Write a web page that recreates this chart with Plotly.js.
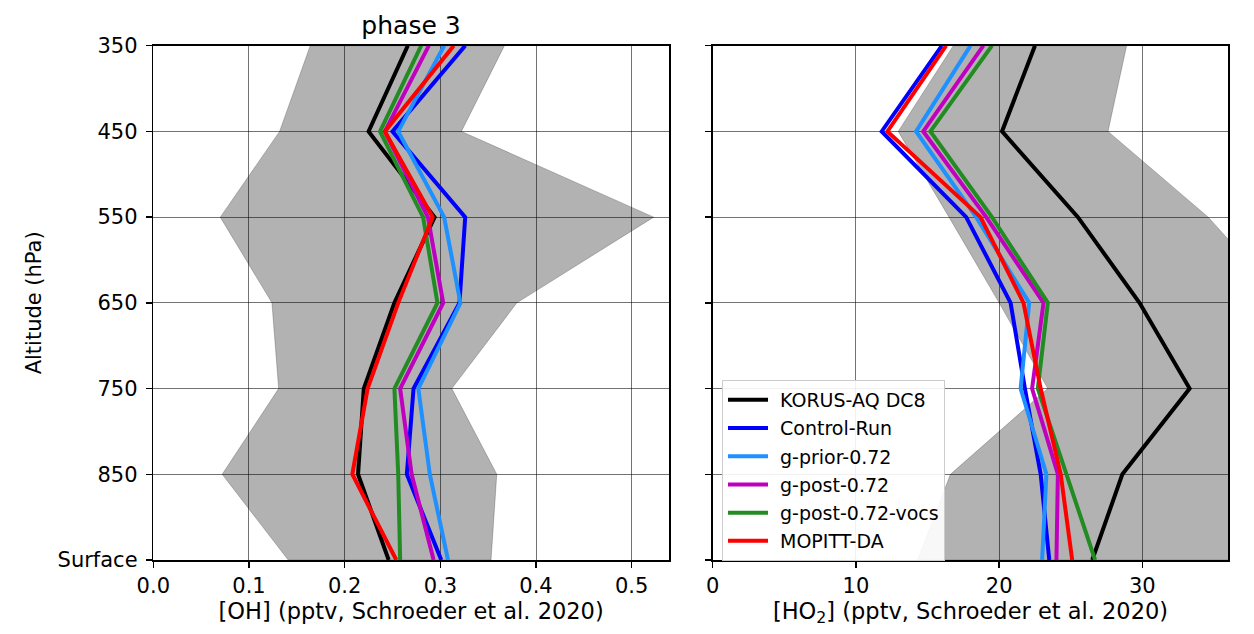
<!DOCTYPE html>
<html>
<head>
<meta charset="utf-8">
<script src="https://cdn.plot.ly/plotly-3.0.1.min.js"></script>
<style>
  html, body { margin: 0; padding: 0; background: #ffffff; }
  #chart { width: 1254px; height: 634px; }
</style>
</head>
<body>
<div id="chart"></div>
<script>
// Pressure levels, top of profile first
const levels = ['350', '450', '550', '650', '750', '850', 'Surface'];

// [OH] profiles (pptv)
const korusOH   = [0.266, 0.225, 0.294, 0.252, 0.220, 0.214, 0.246];
const controlOH = [0.326, 0.250, 0.326, 0.320, 0.272, 0.265, 0.301];
const gPriorOH  = [0.304, 0.256, 0.304, 0.321, 0.277, 0.289, 0.308];
const gPostOH   = [0.288, 0.242, 0.287, 0.303, 0.258, 0.270, 0.293];
const gVocsOH   = [0.280, 0.237, 0.282, 0.297, 0.252, 0.256, 0.258];
const mopittOH  = [0.314, 0.242, 0.292, 0.256, 0.224, 0.208, 0.254];
// observed [OH] spread
const ohLow  = [0.164, 0.132, 0.070, 0.124, 0.131, 0.072, 0.141];
const ohHigh = [0.367, 0.322, 0.523, 0.380, 0.312, 0.359, 0.353];

// [HO2] profiles (pptv)
const korusHO2   = [22.5, 20.2, 25.5, 29.8, 33.3, 28.6, 26.5];
const controlHO2 = [16.0, 11.8, 17.7, 20.8, 21.8, 22.9, 23.5];
const gPriorHO2  = [18.0, 14.2, 18.4, 22.1, 21.5, 23.3, 23.0];
const gPostHO2   = [18.9, 14.7, 19.1, 23.1, 22.3, 24.1, 24.0];
const gVocsHO2   = [19.5, 15.2, 19.5, 23.4, 22.7, 24.7, 26.7];
const mopittHO2  = [16.3, 12.2, 18.7, 21.7, 22.9, 24.3, 25.1];
// observed [HO2] spread
const ho2Low  = [16.8, 12.95, 16.5, 20.0, 23.4, 16.6, 14.3];
const ho2High = [28.9, 27.6, 34.6, 40.0, 42.0, 40.0, 38.0];

const seriesNames  = ['KORUS-AQ DC8', 'Control-Run', 'g-prior-0.72', 'g-post-0.72', 'g-post-0.72-vocs', 'MOPITT-DA'];
const seriesColors = ['#000000', '#0000ff', '#1e90ff', '#bf00bf', '#228b22', '#ff0000'];
const ohSeries  = [korusOH, controlOH, gPriorOH, gPostOH, gVocsOH, mopittOH];
const ho2Series = [korusHO2, controlHO2, gPriorHO2, gPostHO2, gVocsHO2, mopittHO2];

function band(low, high, xa, ya) {
  return {
    type: 'scatter', mode: 'lines',
    x: low.concat(high.slice().reverse(), [low[0]]),
    y: levels.concat(levels.slice().reverse(), [levels[0]]),
    fill: 'toself',
    fillcolor: 'rgba(0,0,0,0.3)',
    line: { color: 'rgba(0,0,0,0.22)', width: 1 },
    xaxis: xa, yaxis: ya,
    showlegend: false, hoverinfo: 'skip'
  };
}

const traces = [band(ohLow, ohHigh, 'x', 'y'), band(ho2Low, ho2High, 'x2', 'y2')];
ohSeries.forEach((vals, i) => {
  traces.push({
    type: 'scatter', mode: 'lines', x: vals, y: levels,
    line: { color: seriesColors[i], width: 4 },
    name: seriesNames[i], xaxis: 'x', yaxis: 'y', showlegend: false
  });
});
ho2Series.forEach((vals, i) => {
  traces.push({
    type: 'scatter', mode: 'lines', x: vals, y: levels,
    line: { color: seriesColors[i], width: 4 },
    name: seriesNames[i], legendgroup: 'g' + i,
    xaxis: 'x2', yaxis: 'y2', showlegend: true
  });
});

const W = 1254, H = 634;
const font = { family: 'DejaVu Sans, sans-serif', color: '#000000' };
const axisCommon = {
  showline: true, linecolor: '#000000', linewidth: 1.5, mirror: true,
  ticks: 'outside', ticklen: 6, tickwidth: 1.5, tickcolor: '#000000',
  showgrid: true, gridcolor: 'rgba(0,0,0,0.55)', gridwidth: 1,
  zeroline: false, tickfont: { family: font.family, size: 21, color: '#000' }
};
const yDomain = [1 - 560 / H, 1 - 45.7 / H];

const layout = {
  width: W, height: H,
  margin: { l: 0, r: 0, t: 0, b: 0 },
  paper_bgcolor: '#ffffff', plot_bgcolor: '#ffffff',
  font: font,
  title: {
    text: 'phase 3', x: 411 / W, xanchor: 'center', y: 1 - 25 / H, yanchor: 'middle',
    font: { family: font.family, size: 25, color: '#000' }
  },
  xaxis: Object.assign({}, axisCommon, {
    domain: [153.3 / W, 669 / W], range: [0, 0.539], dtick: 0.1, tick0: 0, tickformat: '.1f',
    title: { text: '[OH] (pptv, Schroeder et al. 2020)', standoff: 5,
             font: { family: font.family, size: 22.5, color: '#000' } },
    anchor: 'y'
  }),
  yaxis: Object.assign({}, axisCommon, {
    domain: yDomain, type: 'category', categoryorder: 'array', categoryarray: levels,
    range: [6, 0], anchor: 'x', ticklabelstandoff: 4,
    title: { text: 'Altitude (hPa)', standoff: 10,
             font: { family: font.family, size: 21, color: '#000' } }
  }),
  xaxis2: Object.assign({}, axisCommon, {
    domain: [712.7 / W, 1228.3 / W], range: [0, 36], dtick: 10, tick0: 0,
    title: { text: '[HO<sub>2</sub>] (pptv, Schroeder et al. 2020)', standoff: 5,
             font: { family: font.family, size: 22.5, color: '#000' } },
    anchor: 'y2'
  }),
  yaxis2: Object.assign({}, axisCommon, {
    domain: yDomain, type: 'category', categoryorder: 'array', categoryarray: levels,
    range: [6, 0], anchor: 'x2', showticklabels: false
  }),
  legend: {
    x: 722 / W, y: 1 - 380 / H, xanchor: 'left', yanchor: 'top',
    bgcolor: 'rgba(255,255,255,0.9)', bordercolor: '#cccccc', borderwidth: 1,
    font: { family: font.family, size: 19, color: '#000' },
    traceorder: 'grouped', tracegroupgap: 0.5, itemwidth: 47
  },
  showlegend: true
};

Plotly.newPlot('chart', traces, layout, { staticPlot: true, displayModeBar: false })
  .then(gd => {
    // longer key lines in the legend
    gd.querySelectorAll('.legend .legendlines path').forEach(p => p.setAttribute('d', 'M5,0h40'));
  });
</script>
</body>
</html>
